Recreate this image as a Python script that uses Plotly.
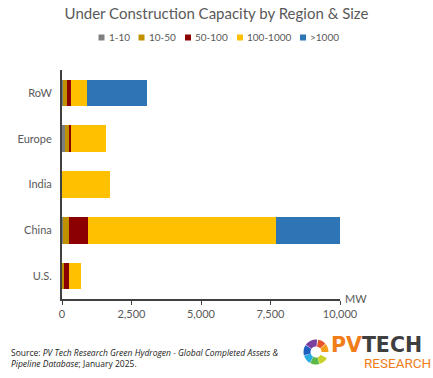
import math
import plotly.graph_objects as go

regions = ["U.S.", "China", "India", "Europe", "RoW"]
size_1_10 = [10, 30, 0, 100, 20]
size_10_50 = [50, 220, 10, 160, 150]
size_50_100 = [180, 670, 0, 80, 155]
size_100_1000 = [430, 6790, 1700, 1260, 565]
size_gt_1000 = [0, 2290, 0, 0, 2180]
tick_vals = [0, 2500, 5000, 7500, 10000]
tick_text = ["0", "2,500", "5,000", "7,500", "10,000"]

series = [
    ("1-10", size_1_10, "#7F7F7F"),
    ("10-50", size_10_50, "#BF9000"),
    ("50-100", size_50_100, "#8B0000"),
    ("100-1000", size_100_1000, "#FFC000"),
    (">1000", size_gt_1000, "#2E75B6"),
]
legend_px = [98.5, 138.5, 185, 237, 300]

W, H = 433, 378
L, R, T, B = 62, 93, 70, 79
PW, PH = W - L - R, H - T - B

def px(x, y):
    return (x - L) / PW, (H - B - y) / PH

FONT = "Lato"
GRAY = "#595959"

fig = go.Figure()
for name, vals, col in series:
    fig.add_trace(go.Bar(
        y=regions, x=vals, name=name, orientation="h",
        marker=dict(color=col, line=dict(width=0)),
        showlegend=False,
    ))

# legend drawn as squares + text
for (name, vals, col), lxp in zip(series, legend_px):
    x0, y0 = px(lxp, 34.5)
    x1, y1 = px(lxp + 6, 40.5)
    fig.add_shape(type="rect", x0=x0, y0=y0, x1=x1, y1=y1,
                  xref="paper", yref="paper", fillcolor=col,
                  line=dict(width=0))
    tx, ty = px(lxp + 8, 37.5)
    fig.add_annotation(text=name, x=tx, y=ty, xref="paper", yref="paper",
                       xanchor="left", yanchor="middle", showarrow=False,
                       font=dict(size=10, color=GRAY))

fig.update_layout(
    width=W, height=H,
    margin=dict(l=L, r=R, t=T, b=B, autoexpand=False),
    barmode="stack", bargap=0.42,
    plot_bgcolor="white", paper_bgcolor="white",
    font=dict(family=FONT, color=GRAY, size=11),
    title=dict(text="Under Construction Capacity by Region & Size",
               x=0.5, xanchor="center", y=1 - 14 / H, yanchor="middle",
               font=dict(size=15, color=GRAY, family=FONT)),
    showlegend=False,
)
fig.update_xaxes(range=[0, 10000], tickvals=tick_vals, ticktext=tick_text,
                 showgrid=False, zeroline=False, showline=True,
                 linecolor="#404040", linewidth=1.5, ticks="outside",
                 ticklen=4, tickcolor="#404040", automargin=False,
                 tickfont=dict(size=11, color=GRAY))
fig.update_yaxes(showgrid=False, zeroline=False, showline=True,
                 linecolor="#404040", linewidth=2, ticks="",
                 automargin=False,
                 ticklabelstandoff=6, tickfont=dict(size=11, color=GRAY))

ax, ay = px(356, 298)
fig.add_annotation(text="MW", x=ax, y=ay, xref="paper", yref="paper",
                   xanchor="center", yanchor="middle", showarrow=False,
                   font=dict(size=11, color=GRAY))

sx, sy = px(9, 358)
fig.add_annotation(
    text="Source: <i>PV Tech Research Green Hydrogen - Global Completed Assets &amp;</i><br>"
         "<i>Pipeline Database</i>; January 2025.",
    x=sx, y=sy, xref="paper", yref="paper", xanchor="left", yanchor="middle",
    align="left", showarrow=False,
    font=dict(size=8.5, color="#222222", family="Open Sans"))

# logo text
lx, ly = px(329, 344)
fig.add_annotation(text="<b><span style='color:#F07D1A'>PV</span>TECH</b>",
                   x=lx, y=ly, xref="paper", yref="paper", xanchor="left",
                   yanchor="middle", showarrow=False, height=17,
                   font=dict(size=20.5, color="#3F3F3F", family="DejaVu Sans"))
rx, ry = px(433, 363)
fig.add_annotation(text="RESEARCH", x=rx, y=ry, xref="paper", yref="paper",
                   xanchor="right", yanchor="middle", showarrow=False,
                   height=12,
                   font=dict(size=13.5, color="#F07D1A", family="Roboto"))

# logo ring
cx, cy, ro, ri = 316, 352, 12.5, 5.5
ring_cols = ["#E8542A", "#F59E1B", "#C9D22A", "#5BB947", "#29ABE2", "#1F5FBF", "#7B3F9E"]
starts = [10, 50, 120, 165, 210, 255, 305]
spans = [38, 40, 43, 43, 43, 48, 60]
for col, a0, sp in zip(ring_cols, starts, spans):
    a1 = a0 + sp
    pts = []
    n = 8
    for i in range(n + 1):
        a = math.radians(a0 + (a1 - a0) * i / n)
        pts.append(px(cx + ro * math.sin(a), cy - ro * math.cos(a)))
    for i in range(n, -1, -1):
        a = math.radians(a0 + (a1 - a0) * i / n)
        pts.append(px(cx + ri * math.sin(a), cy - ri * math.cos(a)))
    path = "M " + " L ".join(f"{p[0]:.4f},{p[1]:.4f}" for p in pts) + " Z"
    fig.add_shape(type="path", path=path, xref="paper", yref="paper",
                  fillcolor=col, line=dict(width=0))

fig.write_html("out.html", config={"displayModeBar": False},
               post_script="document.body.style.margin='0';")
